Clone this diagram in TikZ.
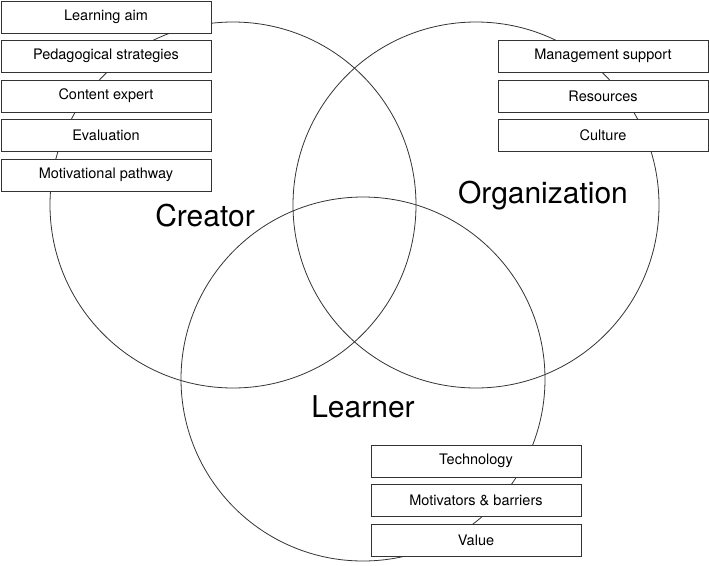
\documentclass[tikz,border=0pt]{standalone}
\usepackage{fontspec}
\setmainfont{TeX Gyre Heros}
\begin{document}
\begin{tikzpicture}[x=1pt,y=-1pt,
  ring/.style={circle, draw=black!80, line width=0.8pt, inner sep=0pt, minimum size=366pt},
  itembox/.style={draw=black!80, fill=white, line width=0.8pt, minimum width=210pt, minimum height=32pt, inner sep=0pt, font=\fontsize{14.5}{16}\selectfont},
  biglabel/.style={inner sep=0pt, font=\fontsize{30}{34}\selectfont}]
\useasboundingbox (0,0) rectangle (709,565);
\node[ring] (creatorC) at (233,205) {};
\node[ring] (orgC) at (476,205) {};
\node[ring, minimum size=364pt] (learnerC) at (363,379) {};
\node[biglabel] (creator) at (205,216) {Creator};
\node[biglabel] (org) at (543,196) {Organization};
\node[biglabel] (learner) at (363,407) {Learner};
\node[itembox] (b1) at (106,17) {Learning aim};
\node[itembox] (b2) at (106,56) {Pedagogical strategies};
\node[itembox] (b3) at (106,96) {Content expert};
\node[itembox] (b4) at (106,135.5) {Evaluation};
\node[itembox] (b5) at (106,175) {Motivational pathway};
\node[itembox] (r1) at (603,56) {Management support};
\node[itembox] (r2) at (603,96) {Resources};
\node[itembox] (r3) at (603,135.5) {Culture};
\node[itembox] (l1) at (476,461) {Technology};
\node[itembox] (l2) at (476,500.5) {Motivators \& barriers};
\node[itembox] (l3) at (476,540.5) {Value};
\end{tikzpicture}
\end{document}
